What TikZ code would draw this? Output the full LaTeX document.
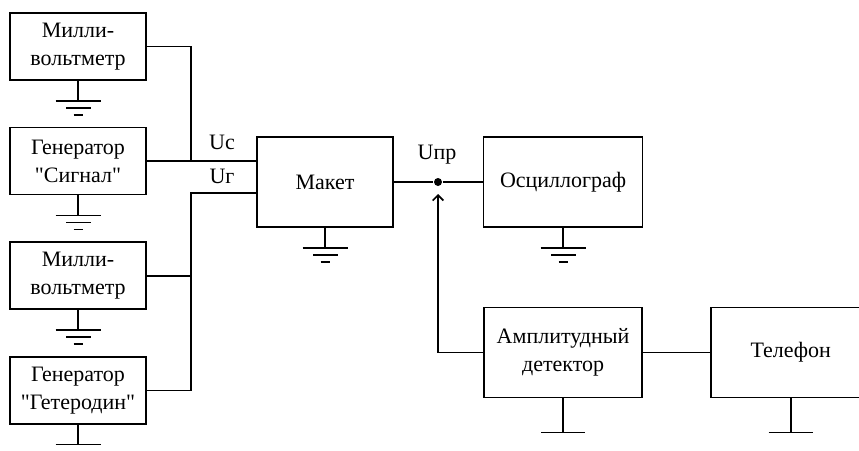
\documentclass[tikz,border=0pt]{standalone}
\usepackage{fontspec}
\newfontfamily\schfont{Liberation Serif}
\usepackage{tikz}
\usetikzlibrary{arrows.meta,positioning}

\begin{document}
\begin{tikzpicture}[
  x=0.75pt, y=-0.75pt,
  line width=1.2pt,
  node distance=34.5pt and 66.75pt,
  box/.style={draw, align=center, minimum width=102pt, minimum height=50.25pt,
    inner sep=2pt, font=\fontsize{16.5}{21}\schfont},
  bigbox/.style={box, minimum height=67.5pt},
  lbl/.style={inner sep=0pt, font=\fontsize{16.5}{18}\schfont},
  dot/.style={circle, fill, inner sep=0pt, minimum size=6pt},
  arr/.style={-{Straight Barb[length=4pt,width=8pt]}},
]
\clip (0,0) rectangle (859,450);

\node[box] (mv1) at (78,46.5) {Милли-\\вольтметр};
\node[box, below=of mv1] (gs) {Генератор\\"Сигнал"};
\node[box, below=of gs] (mv2) {Милли-\\вольтметр};
\node[box, below=of mv2] (gg) {Генератор\\"Гетеродин"};
\node[bigbox] (maket) at (325,182) {Макет};
\node[bigbox, minimum width=119.25pt, right=of maket] (osc) {Осциллограф};
\node[bigbox, minimum width=118.5pt, below=59.25pt of osc] (ad) {Амплитудный\\детектор};
\node[bigbox, minimum width=120pt, right=50.25pt of ad] (tel) {Телефон};

\node[dot] (jn) at (438,182) {};
\node[lbl] (lc) at (222,142) {Uс};
\node[lbl] (lg) at (222,176) {Uг};
\node[lbl] (lp) at (437,155) {Uпр};

\coordinate (bc) at ([xshift=33pt]gs.east);
\coordinate (ug) at ([yshift=-8.25pt]maket.west);
\coordinate (bg) at (ug -| bc);
\coordinate (tip) at ([yshift=-9pt]jn.center);

% signal side
\draw (gs.east) -- (gs.east -| maket.west);
\draw (mv1.east) -| (bc);
\draw (ug) -- (bg) |- (gg.east);
\draw (mv2.east) -- (mv2.east -| bc);

% output side
\draw (maket) -- (jn) -- (osc);
\draw[arr] (ad.west) -| (tip);
\draw (ad) -- (tel);

% grounds
\foreach \n in {mv1,gs,mv2,gg,maket,osc}
  \draw (\n.south) -- ++(0,-15pt) ++(-16.875pt,0) -- ++(33.75pt,0)
    ++(-7.5pt,-5.25pt) -- ++(-18.75pt,0) ++(6pt,-5.25pt) -- ++(6.75pt,0);
\foreach \n in {ad,tel}
  \draw (\n.south) -- ++(0,-25.5pt) ++(-16.5pt,0) -- ++(33pt,0);
\end{tikzpicture}
\end{document}
